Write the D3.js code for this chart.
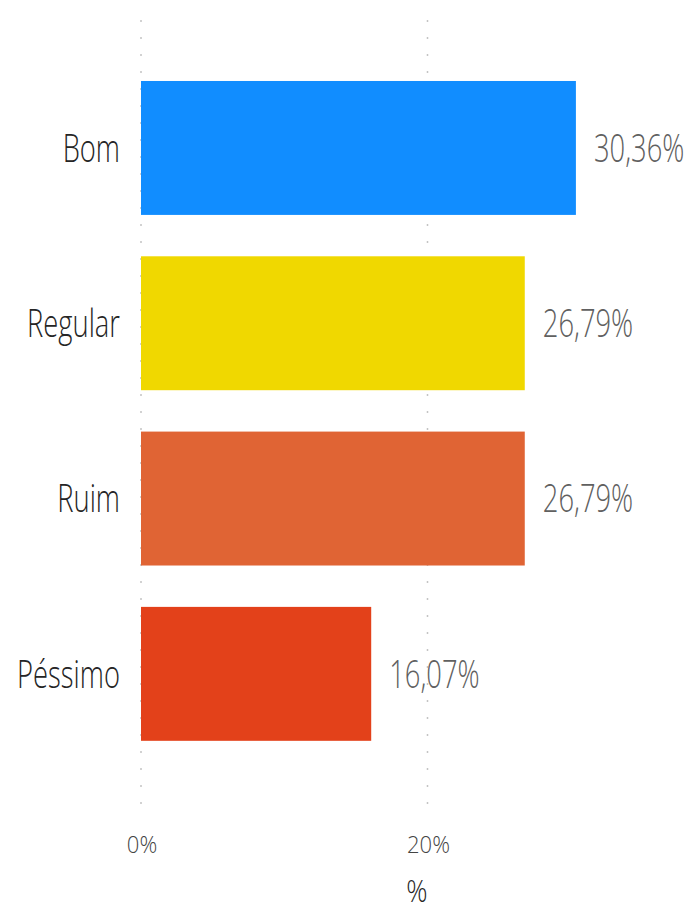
<!DOCTYPE html>
<html>
<head>
<meta charset="utf-8">
<script src="https://cdn.jsdelivr.net/npm/d3@7"></script>
<style>
  body { margin: 0; background: #fff; }
  text { font-family: "Segoe UI", "Open Sans", "Noto Sans", sans-serif; font-weight: 300; }
</style>
</head>
<body>
<svg class="chart"></svg>
<script>
var W = 692, H = 911;

// data
var categories = ["Bom", "Regular", "Ruim", "Péssimo"];
var values = [0.3036, 0.2679, 0.2679, 0.1607];
var labels = ["30,36%", "26,79%", "26,79%", "16,07%"];
var colors = ["#118DFF", "#F0D800", "#E06434", "#E3411A"];
var ticks = [0, 0.2];
var tickLabels = ["0%", "20%"];
var axisTitle = "%";

var sx = 0.72; // picture text is narrow and tall

var svg = d3.select(".chart").attr("width", W).attr("height", H);

var x = d3.scaleLinear().domain([0, 0.2]).range([141, 427.5]);
var y = d3.scaleBand().domain(categories).range([60.3, 761.5])
  .paddingInner(0.236).paddingOuter(0.118);

// gridlines
svg.append("g").selectAll("line")
  .data(ticks)
  .enter().append("line")
  .attr("x1", function(d) { return x(d); })
  .attr("x2", function(d) { return x(d); })
  .attr("y1", 20).attr("y2", 818)
  .attr("stroke", "#c4c4c4")
  .attr("stroke-width", 1.5)
  .attr("stroke-dasharray", "2,15");

// bars
svg.append("g").selectAll("rect")
  .data(categories)
  .enter().append("rect")
  .attr("x", x(0))
  .attr("y", function(d) { return y(d); })
  .attr("width", function(d, i) { return x(values[i]) - x(0); })
  .attr("height", y.bandwidth())
  .attr("fill", function(d, i) { return colors[i]; });

// category labels
svg.append("g").selectAll("text")
  .data(categories)
  .enter().append("text")
  .attr("transform", function(d) {
    return "translate(120," + (y(d) + y.bandwidth() / 2) + ") scale(" + sx + ",1)";
  })
  .attr("dy", "0.36em")
  .attr("text-anchor", "end")
  .attr("font-size", 38)
  .attr("fill", "#252525")
  .text(String);

// value labels
svg.append("g").selectAll("text")
  .data(categories)
  .enter().append("text")
  .attr("transform", function(d, i) {
    return "translate(" + (x(values[i]) + 18) + "," + (y(d) + y.bandwidth() / 2) + ") scale(" + sx + ",1)";
  })
  .attr("dy", "0.36em")
  .attr("font-size", 38)
  .attr("fill", "#606060")
  .text(function(d, i) { return labels[i]; });

// x tick labels
svg.append("g").selectAll("text")
  .data(ticks)
  .enter().append("text")
  .attr("transform", function(d) {
    return "translate(" + (x(d) + 1) + ",853) scale(0.92,1)";
  })
  .attr("text-anchor", "middle")
  .attr("font-size", 24)
  .attr("fill", "#444")
  .text(function(d, i) { return tickLabels[i]; });

// axis title
svg.append("text")
  .attr("transform", "translate(417,902) scale(0.85,1)")
  .attr("text-anchor", "middle")
  .attr("font-size", 31)
  .attr("fill", "#252525")
  .text(axisTitle);
</script>
</body>
</html>
